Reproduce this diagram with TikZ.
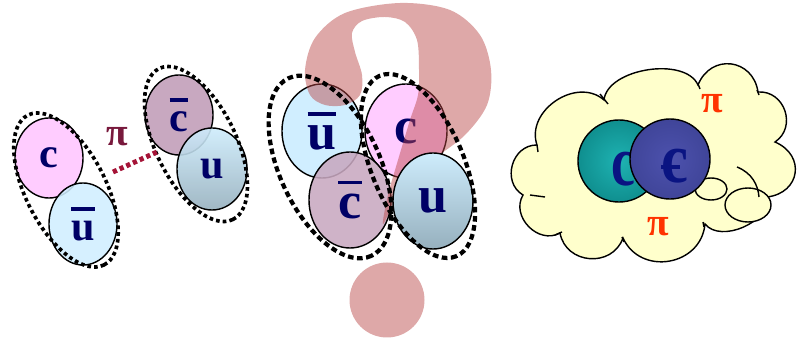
\documentclass[tikz,border=0pt]{standalone}
\usepackage{fontspec}
\setmainfont{Liberation Serif}
\usetikzlibrary{shapes.geometric}

\definecolor{quarkc}{RGB}{255,204,255}
\definecolor{quarku}{RGB}{208,238,255}
\definecolor{quarkcbar}{RGB}{200,168,192}
\definecolor{utop}{RGB}{206,236,252}
\definecolor{ubot}{RGB}{150,176,190}
\definecolor{letter}{RGB}{0,0,102}
\definecolor{letterdeep}{RGB}{10,20,130}
\definecolor{pilink}{RGB}{165,20,55}
\definecolor{pidark}{RGB}{120,25,60}
\definecolor{pired}{RGB}{255,51,0}
\definecolor{qmark}{RGB}{185,70,70}
\definecolor{cloudfill}{RGB}{255,255,204}

\pgfdeclareradialshading{tealball}{\pgfpoint{0bp}{0bp}}{rgb(0bp)=(0.12,0.70,0.70); rgb(50bp)=(0,0.42,0.42)}
\pgfdeclareradialshading{navyball}{\pgfpoint{0bp}{0bp}}{rgb(0bp)=(0.30,0.32,0.68); rgb(50bp)=(0.20,0.22,0.52)}

% antiquark: letter with a bar on top
\newcommand\qbar[1]{\vbox{\hrule height 2.5pt\vskip 7pt\hbox{#1}}}

\tikzset{
  quark/.style={ellipse, draw=black, line width=1pt, inner sep=0pt,
    text=letter, text opacity=1, font=\fontsize{30}{30}\selectfont\bfseries},
  bigquark/.style={quark, font=\fontsize{37}{37}\selectfont\bfseries},
  encl/.style={draw=black, line width=2.6pt, dash pattern=on 2.6pt off 2.2pt},
  bigencl/.style={draw=black, line width=3pt, dash pattern=on 4pt off 2.5pt},
  pilabel/.style={font=\fontsize{28}{28}\selectfont\bfseries, inner sep=0pt},
  cloudline/.style={draw=black, line width=1pt},
  ball/.style={circle, draw=black, line width=1pt, inner sep=0pt},
  balltext/.style={text=letterdeep, font=\fontsize{48}{48}\selectfont\bfseries, inner sep=0pt},
}

\begin{document}
\begin{tikzpicture}[x=0.025cm, y=-0.025cm]
  \useasboundingbox (0,0) rectangle (801,339);

  % Drawing meson D (c ubar)
  \node[quark, fill=quarkc, minimum width=1.7cm, minimum height=2cm] (cl) at (49,158) {c};
  \node[quark, fill=quarku, fill opacity=0.88, minimum width=1.7cm, minimum height=2.05cm] (ubl) at (83,224) {\qbar{u}};
  \draw[encl, rotate around={-63:(66,190)}] (66,190) ellipse[x radius=84, y radius=40];

  % Drawing meson Dbar (cbar u)
  \node[quark, fill=quarkcbar, minimum width=1.7cm, minimum height=2cm] (cbl) at (179,115) {\qbar{c}};
  \node[quark, top color=utop, bottom color=ubot, fill opacity=0.9, minimum width=1.75cm, minimum height=2.05cm] (ul) at (212,169) {u};
  \draw[encl, rotate around={-64:(196,144)}] (196,144) ellipse[x radius=84, y radius=40];

  % Drawing pion exchange
  \coordinate (linkA) at (113,172);
  \coordinate (linkB) at (157,152);
  \draw[pilink, line width=3.5pt, dash pattern=on 3pt off 2.2pt] (linkA) -- (linkB);
  \node[pilabel, text=pidark] (pil) at (117,137) {π};

  % Drawing tetraquark
  \node[bigquark, fill=quarku, minimum width=2cm, minimum height=2.35cm] (ubm) at (322,131) {\qbar{u}};
  \node[bigquark, fill=quarkc, minimum width=2.05cm, minimum height=2.35cm] (cm) at (406,131) {c};
  \node[bigquark, fill=quarkcbar, fill opacity=0.88, minimum width=2.05cm, minimum height=2.4cm] (cbm) at (350,200) {\qbar{c}};

  % Drawing question mark
  \fill[qmark, fill opacity=0.47] plot[smooth cycle, tension=0.55] coordinates {
    (383,224) (388,195) (398,160) (410,120) (418,95) (419,70) (417,40)
    (405,22) (385,17) (362,21) (352,33) (355,52) (362,75) (360,95)
    (345,105) (325,105) (310,95) (305,70) (315,38) (345,13) (400,3)
    (450,10) (480,35) (491,70) (487,105) (465,135) (435,158) (410,178)
    (395,200)};
  \fill[qmark, fill opacity=0.47] (387,300) circle[radius=37.5];

  \node[bigquark, top color=utop, bottom color=ubot, minimum width=2cm, minimum height=2.4cm] (um) at (433,201) {u};
  \draw[bigencl, rotate around={-65:(330,167)}] (330,167) ellipse[x radius=98, y radius=50];
  \draw[bigencl, rotate around={-67:(418,166)}] (418,166) ellipse[x radius=98, y radius=46];

  % Drawing cloud
  \draw[cloudline, fill=cloudfill] (523,195)
    to[bend left=75, looseness=1.25] (537,145)
    to[bend left=75, looseness=1.15] (604,100)
    to[bend left=75, looseness=0.85] (698,85)
    to[bend left=75, looseness=1.45] (758,92)
    to[bend left=75, looseness=1.3] (775,142)
    to[bend left=75, looseness=1.55] (767,197)
    to[bend left=75, looseness=0.95] (705,224)
    to[bend left=75, looseness=1.3] (623,238)
    to[bend left=75, looseness=1.3] (560,233)
    to[bend left=75, looseness=1.2] (523,195) -- cycle;
  \draw[cloudline] (537,145) -- (538,152);
  \draw[cloudline] (600,94) -- (608,104);
  \draw[cloudline] (698,84) -- (700,89);
  \draw[cloudline] (757,90) -- (759,95);
  \draw[cloudline] (530,195) -- (545,197);
  \draw[cloudline] (562,232) -- (555,235);
  \draw[cloudline] (622,237) -- (624,242);
  \draw[cloudline] (703,222) -- (704,227);

  \node[ellipse, cloudline, fill=cloudfill, minimum width=0.8cm, minimum height=0.55cm, inner sep=0pt] (bub1) at (711,189) {};
  \node[ellipse, cloudline, fill=cloudfill, minimum width=1.15cm, minimum height=0.85cm, inner sep=0pt] (bub2) at (748,205) {};
  \draw[cloudline] (737,167) .. controls (752,173) and (758,185) .. (759,197);

  % Drawing charmonium core
  \node[ball, minimum size=2.05cm, shading=tealball] (cball) at (619,161) {};
  \node[balltext] (cballl) at (623,169) {\scalebox{0.8}[1.05]{c}};
  \node[ball, minimum size=2cm, shading=navyball] (cbball) at (670,159) {};
  \node[balltext] (cbballl) at (675,166) {\scalebox{0.9}[1.05]{c}};
  \draw[letterdeep, line width=2.4pt] (661,167) -- (680,167);

  \node[pilabel, text=pired] (piup) at (712,104) {π};
  \node[pilabel, text=pired] (pidown) at (658,227) {π};
\end{tikzpicture}
\end{document}
